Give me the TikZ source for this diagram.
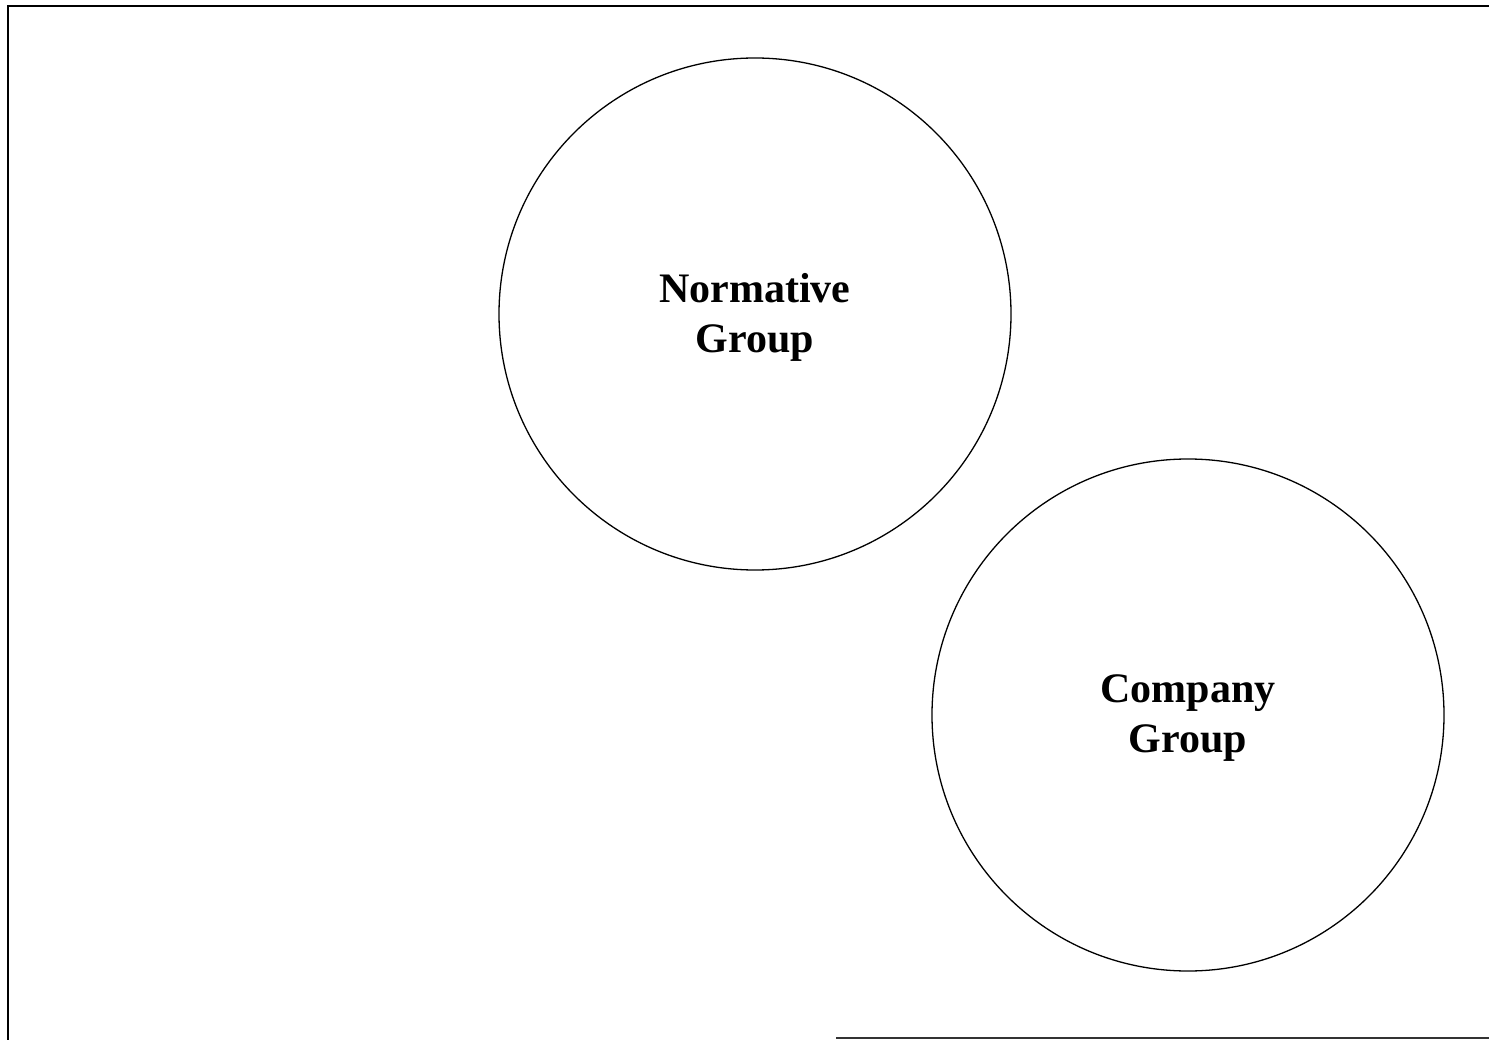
\documentclass[tikz,border=0pt]{standalone}
\usepackage{fontspec}
\setmainfont{Liberation Serif}
\begin{document}
\begin{tikzpicture}[x=1pt,y=-1pt,
  group/.style={circle,draw,line width=1.3pt,minimum size=512pt,inner sep=0pt},
  grouplabel/.style={align=center,inner sep=0pt,font=\fontsize{42}{50}\selectfont\bfseries},
  frame/.style={line width=2pt}]
\useasboundingbox (0,0) rectangle (1489,1040);
% partial frame
\coordinate (tl) at (8,6);
\coordinate (tr) at (1489,6);
\coordinate (bl) at (8,1040);
\coordinate (bm) at (836,1038);
\coordinate (br) at (1489,1038);
\draw[frame] (bl) -- (tl) -- (tr);
\draw[line width=1.2pt,black!80] (bm) -- (br);
% groups
\node[group] (norm) at (755,314) {};
\node[grouplabel] (normtext) at ([yshift=-3pt]norm.center) {Normative\\Group};
\node[group] (comp) at (1188,715) {};
\node[grouplabel] (comptext) at ([yshift=-3pt]comp.center) {Company\\Group};
\end{tikzpicture}
\end{document}
